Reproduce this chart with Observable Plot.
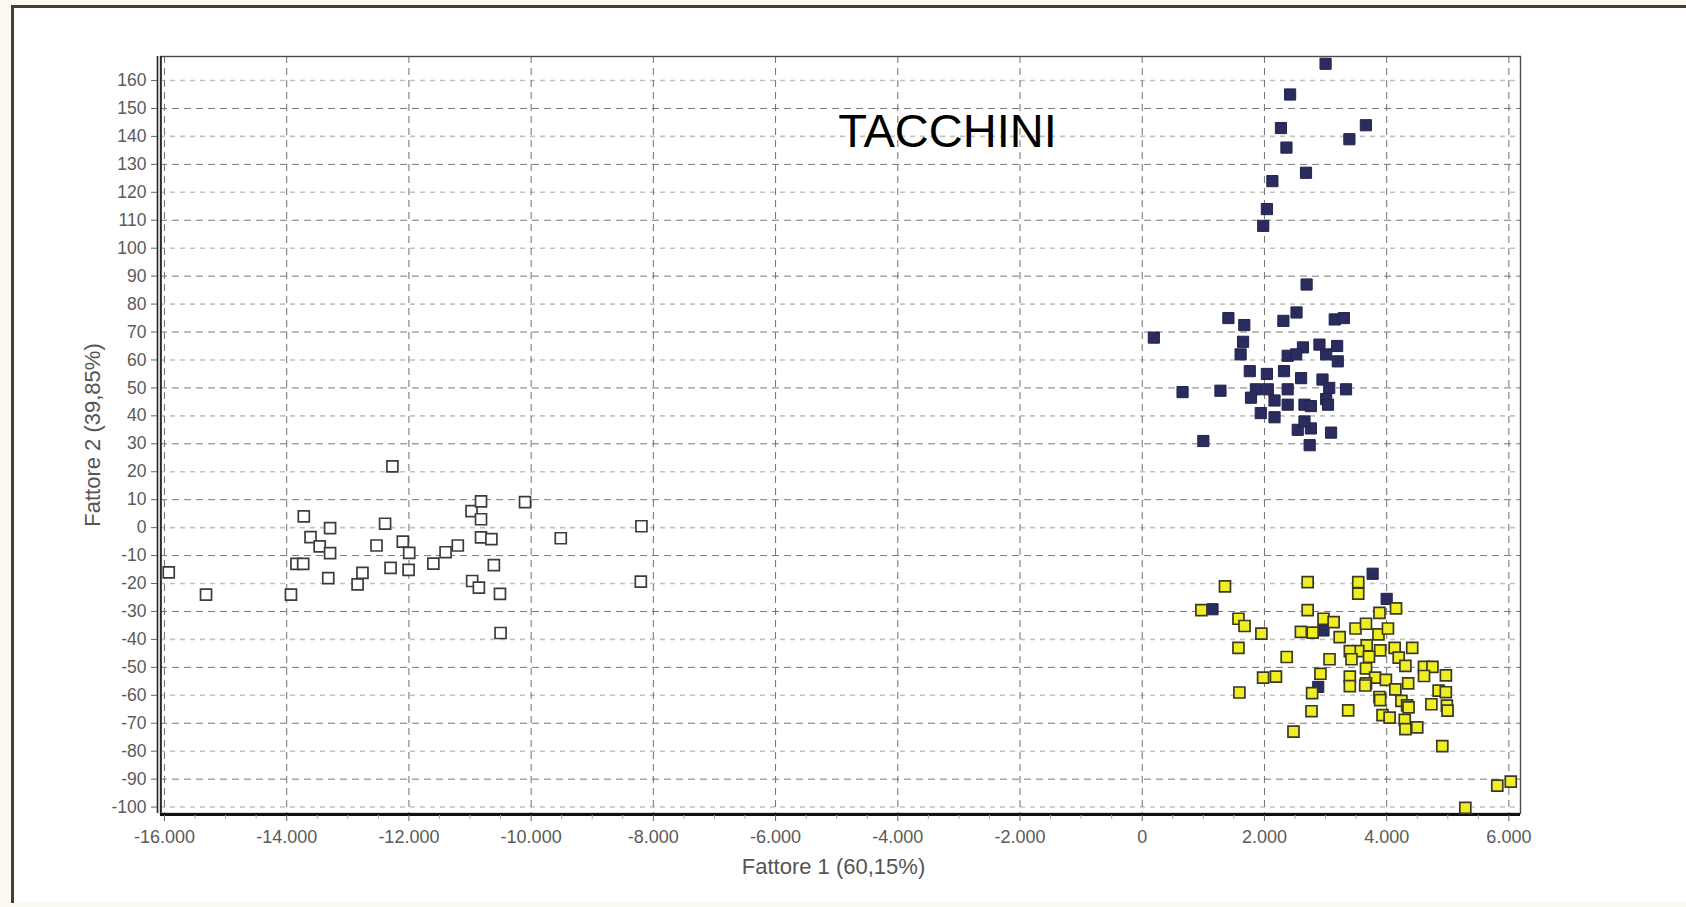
<!DOCTYPE html>
<html>
<head>
<meta charset="utf-8">
<script src="https://cdn.jsdelivr.net/npm/d3@7"></script>
<script src="https://cdn.jsdelivr.net/npm/@observablehq/plot@0.6"></script>
<style>
  html, body { margin: 0; padding: 0; background: #fcf8f2; }
  #page { position: relative; width: 1686px; height: 907px; overflow: hidden; }
  #box { position: absolute; left: 11px; top: 5px; right: 0; bottom: 4px; background: #ffffff;
         border-top: 3px solid #4a3a3a; border-left: 3px solid #4a3a3a; }
  #chart { position: absolute; left: 0; top: 0; }
</style>
</head>
<body>
<div id="page"><div id="box"></div><div id="chart"></div></div>
<script>
// ---- data ----
const title = "TACCHINI";
const xLabel = "Fattore 1 (60,15%)";
const yLabel = "Fattore 2 (39,85%)";
const xTicks = [-16000, -14000, -12000, -10000, -8000, -6000, -4000, -2000, 0, 2000, 4000, 6000];
const xMinorTicks = [-15500,-15000,-14500,-13500,-13000,-12500,-11500,-11000,-10500,-9500,-9000,-8500,-7500,-7000,-6500,-5500,-5000,-4500,-3500,-3000,-2500,-1500,-1000,-500,500,1000,1500,2500,3000,3500,4500,5000,5500];
const yTicks = [-100,-90,-80,-70,-60,-50,-40,-30,-20,-10,0,10,20,30,40,50,60,70,80,90,100,110,120,130,140,150,160];
const xDomain = [-16065, 6190];
const yDomain = [-102.3, 168.6];

// open squares (left group)
const openPts = [
  [-15930,-16],[-15320,-24],[-13930,-24],[-13840,-13],[-13730,-13],[-13720,4],[-13610,-3.4],
  [-13460,-6.7],[-13290,-0.2],[-13290,-9.1],[-13320,-18.1],[-12840,-20.3],[-12760,-16.2],
  [-12530,-6.4],[-12390,1.4],[-12270,21.9],[-12300,-14.4],[-12100,-5],[-11995,-9],[-12005,-15.1],
  [-11600,-12.9],[-11400,-8.8],[-11200,-6.4],[-10975,5.9],[-10820,9.4],[-10820,3],[-10820,-3.5],
  [-10650,-4.1],[-10610,-13.4],[-10965,-19.1],[-10855,-21.5],[-10510,-23.7],[-10500,-37.7],
  [-10100,9.1],[-9515,-3.8],[-8195,0.5],[-8205,-19.3]
];

// dark navy squares
const navyPts = [
  [3000,166],[2420,155],[2270,143],[3660,144],[3390,139],[2360,136],[2680,127],[2130,124],
  [2040,114],[1980,108],[2690,87],
  [1410,75],[1670,72.5],[2310,74],[2525,77],[3150,74.5],[3300,75],[190,68],[1650,66.5],[1610,62],
  [2630,64.5],[2900,65.5],[3190,65],[2380,61.5],[2520,62],[3200,59.5],[3010,62],[2320,56],
  [1760,56],[2040,55],[2600,53.5],[2950,53],[3060,50],[3335,49.5],[1280,49],[1860,49.5],
  [2055,49.5],[2380,49.5],[1780,46.5],[2165,45.5],[2380,44],[2655,44],[2760,43.5],[3010,46],
  [3040,44],[1940,41],[2165,39.5],[2545,35],[2760,35.5],[2655,38],[3090,34],[2740,29.5],
  [1000,31],[660,48.5],
  [3770,-16.5],[4000,-25.5],[1150,-29.2],[2966,-36.8],[2880,-57]
];

// yellow squares
const yellowPts = [
  [1354,-21],[968,-29.5],[1575,-32.6],[1674,-35.2],[1950,-37.9],[1575,-43],[1590,-59],[2364,-46.3],
  [1978,-53.7],[2188,-53.3],[2475,-73],[2707,-19.5],[2707,-29.5],[2596,-37.3],[2789,-37.6],
  [2966,-32.6],[3132,-33.8],[3231,-39.2],[3065,-47.1],[2916,-52.3],[2780,-59.2],[2770,-65.7],
  [3370,-65.4],[3397,-53.3],[3397,-56.7],[3535,-19.5],[3535,-23.6],[3490,-36.1],[3662,-34.4],
  [3882,-30.5],[4153,-28.9],[3866,-38.2],[4021,-36.1],[3673,-42.1],[3535,-44.2],[3397,-44.2],
  [3893,-43.9],[3711,-46.2],[3424,-47.1],[3662,-50.4],[4131,-43],[4418,-43],[4197,-46.5],
  [4307,-49.5],[3811,-53.7],[3987,-54.5],[3662,-55.7],[3882,-60.6],[4142,-57.9],[4352,-55.7],
  [4241,-62],[4335,-63.6],[3932,-67.1],[4048,-68],[4296,-68.8],[4307,-72.1],[4500,-71.5],
  [4611,-49.8],[4749,-49.8],[4611,-53.1],[4732,-63.2],[4850,-58.3],[4968,-58.9],[4969,-52.9],
  [4985,-63.7],[4996,-65.5],[4910,-78.2],[5810,-92.3],[6031,-90.9],[5287,-100.3],[3649,-56.5],
  [3893,-61.7],[4358,-64.3]
];

// ---- chart ----
const it = d3.formatLocale({decimal: ",", thousands: ".", grouping: [3], currency: ["€", ""], minus: "-"});
const fmt = it.format(",d");
const yOdd = yTicks.filter(v => Math.abs(v / 10) % 2 === 1);
const yEven = yTicks.filter(v => Math.abs(v / 10) % 2 === 0);
const font = "'Liberation Sans', Arial, Helvetica, sans-serif";

const chart = Plot.plot({
  width: 1686,
  height: 907,
  marginLeft: 160,
  marginRight: 166,
  marginTop: 56,
  marginBottom: 94,
  x: {domain: xDomain},
  y: {domain: yDomain},
  style: {background: "transparent", fontFamily: font, overflow: "visible"},
  marks: [
    Plot.gridY(yEven, {stroke: "#c2c2c2", strokeOpacity: 1, strokeWidth: 1.6, strokeDasharray: "5,5"}),
    Plot.gridY(yOdd, {stroke: "#777777", strokeOpacity: 1, strokeWidth: 1, strokeDasharray: "7,5"}),
    Plot.gridX(xTicks, {stroke: "#707070", strokeOpacity: 1, strokeWidth: 1, strokeDasharray: "7,5"}),
    Plot.frame({stroke: "#4a4a4a", strokeWidth: 1.4}),
    Plot.ruleY([yDomain[0]], {stroke: "#111", strokeWidth: 3.2, dy: 1}),
    Plot.ruleX([xDomain[0]], {stroke: "#222", strokeWidth: 1.6, dx: -3}),
    Plot.ruleX([xDomain[0]], {stroke: "#222", strokeWidth: 1.6, dx: 0.5}),
    Plot.axisY(yTicks, {tickSize: 6, tickPadding: 5, tickFormat: fmt, fontSize: 17.5, color: "#5a5a5a", stroke: "#666", label: null, dx: -3}),
    Plot.axisX(xMinorTicks, {tickSize: 4, tickFormat: () => "", stroke: "#aaa", label: null, dy: 2}),
    Plot.axisX(xTicks, {tickSize: 6, tickPadding: 9, tickFormat: fmt, fontSize: 18, color: "#5a5a5a", stroke: "#666", label: null, dy: 2}),
    Plot.text([xLabel], {frameAnchor: "bottom", dx: -7, dy: 53, fontSize: 22, fill: "#555", textAnchor: "middle", lineAnchor: "middle", text: d => d}),
    Plot.text([yLabel], {frameAnchor: "left", dx: -68, rotate: -90, fontSize: 22, fill: "#555", textAnchor: "middle", lineAnchor: "middle", text: d => d}),
    Plot.text([title], {frameAnchor: "top", dx: 107, dy: 75, fontSize: 47, fill: "#000", textAnchor: "middle", lineAnchor: "middle", text: d => d}),
    Plot.dot(openPts, {x: d => d[0], y: d => d[1], symbol: "square", r: 6.2, fill: "#ffffff", stroke: "#3c3c3c", strokeWidth: 1.7}),
    Plot.dot(navyPts, {x: d => d[0], y: d => d[1], symbol: "square", r: 6.3, fill: "#2a2c5e", stroke: "#22244f", strokeWidth: 1}),
    Plot.dot(yellowPts, {x: d => d[0], y: d => d[1], symbol: "square", r: 6.2, fill: "#eeee22", stroke: "#3a3a22", strokeWidth: 1.7})
  ]
});
document.getElementById("chart").appendChild(chart);
</script>
</body>
</html>
